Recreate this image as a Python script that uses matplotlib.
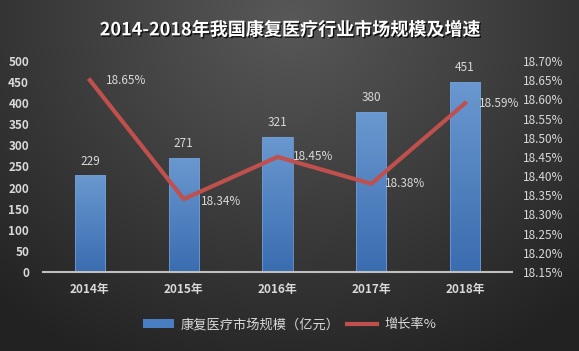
import numpy as np
import matplotlib
matplotlib.use("Agg")
import matplotlib.pyplot as plt
from matplotlib.ticker import FuncFormatter, MultipleLocator
from matplotlib.colors import LinearSegmentedColormap
from matplotlib.patches import Patch
from matplotlib.lines import Line2D
import matplotlib.patheffects as pe

plt.rcParams['font.family'] = ['Noto Sans CJK SC', 'DejaVu Sans']

# data
years = ["2014年", "2015年", "2016年", "2017年", "2018年"]
market_size = [229, 271, 321, 380, 451]
growth_rate = [18.65, 18.34, 18.45, 18.38, 18.59]

txt = "#D9D9D9"
bar_color = "#4A7EC2"
line_color = "#C0504D"

fig = plt.figure(figsize=(5.79, 3.51), dpi=100)

# dark radial background
bg = fig.add_axes([0, 0, 1, 1], zorder=-10)
h, w = 351, 579
yy, xx = np.mgrid[0:h, 0:w]
d = np.sqrt(((xx - w * 0.5) / (w * 0.75)) ** 2 + ((yy - h * 0.05) / (h * 1.1)) ** 2)
d = np.clip(d, 0, 1)
light = np.array([88, 88, 88]) / 255
dark = np.array([34, 34, 34]) / 255
img = light[None, None, :] * (1 - d[..., None]) + dark[None, None, :] * d[..., None]
bg.imshow(img, aspect="auto", extent=[0, 1, 0, 1])
bg.axis("off")

ax = fig.add_axes([43 / 579, 1 - 272 / 351, 469 / 579, 211 / 351])
ax.patch.set_alpha(0)
x = np.arange(len(years))
bars = ax.bar(x, market_size, width=0.32, facecolor="none", edgecolor="#6F9BD3",
              linewidth=0.6, zorder=2)
ax.set_ylim(0, 500)
ax.set_xlim(-0.5, len(years) - 0.5)

# vertical gradient fill in each bar
bar_cmap = LinearSegmentedColormap.from_list("bar", ["#3A6DB0", "#6A98D0"])
grad = np.linspace(0, 1, 256).reshape(-1, 1)
for b in bars:
    x0, y0 = b.get_x(), b.get_y()
    im = ax.imshow(grad, cmap=bar_cmap, origin="lower", aspect="auto",
                   extent=[x0, x0 + b.get_width(), y0, y0 + b.get_height()],
                   zorder=1.9)
    im.set_clip_path(b)
ax.set_xlim(-0.5, len(years) - 0.5)
ax.set_ylim(0, 500)

ax.yaxis.set_major_locator(MultipleLocator(50))
ax.set_xticks(x)
ax.set_xticklabels(years)
for s in ["top", "right", "left"]:
    ax.spines[s].set_visible(False)
ax.spines["bottom"].set_color("#BFBFBF")
ax.spines["bottom"].set_linewidth(1.5)
ax.tick_params(axis="both", length=0, colors=txt, labelsize=8.5)
ax.tick_params(axis="y", pad=10)
ax.tick_params(axis="x", pad=8)
for lbl in ax.get_yticklabels() + ax.get_xticklabels():
    lbl.set_fontweight("bold")

for xi, v in zip(x, market_size):
    ax.text(xi, v + 18, str(v), ha="center", va="bottom", color=txt, fontsize=8.5)

ax2 = ax.twinx()
ax2.patch.set_alpha(0)
ax2.plot(x, growth_rate, color=line_color, linewidth=3, zorder=3)
ax2.set_ylim(18.15, 18.70)
ax2.yaxis.set_major_locator(MultipleLocator(0.05))
ax2.yaxis.set_major_formatter(FuncFormatter(lambda v, p: f"{v:.2f}%"))
for s in ["top", "right", "left", "bottom"]:
    ax2.spines[s].set_visible(False)
ax2.tick_params(axis="y", length=0, colors=txt, labelsize=8.5, pad=8)

offsets = [(0.17, 0.0), (0.18, -0.005), (0.16, 0.0), (0.15, 0.0), (0.15, 0.0)]
for xi, v, (dx, dy) in zip(x, growth_rate, offsets):
    ax2.text(xi + dx, v + dy, f"{v:.2f}%", ha="left", va="center", color=txt, fontsize=8.5)

fig.text(0.5, 0.915, "2014-2018年我国康复医疗行业市场规模及增速", ha="center", va="center",
         color="white", fontsize=13, fontweight="bold",
         path_effects=[pe.withSimplePatchShadow(offset=(1, -1), shadow_rgbFace="black", alpha=0.8)])

handles = [Patch(facecolor=bar_color), Line2D([0], [0], color=line_color, linewidth=3)]
fig.legend(handles, ["康复医疗市场规模（亿元）", "增长率%"], loc="center", bbox_to_anchor=(0.5, 0.075),
           ncol=2, frameon=False, fontsize=9.5, labelcolor=txt, handlelength=2.3,
           columnspacing=0.6, handletextpad=0.5)

fig.savefig("out.png", dpi=100)
